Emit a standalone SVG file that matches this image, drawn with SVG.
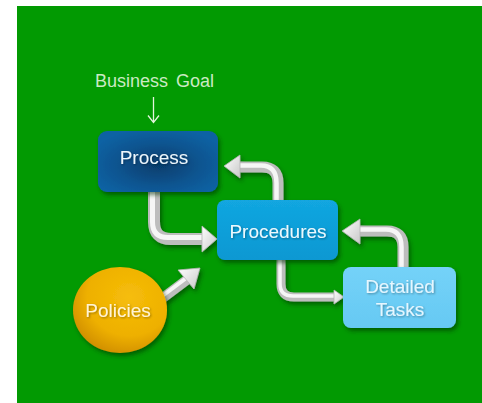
<svg xmlns="http://www.w3.org/2000/svg" width="482" height="403" viewBox="0 0 482 403">
<defs>
<style>
.lbl{font-family:"Liberation Sans",Arial,sans-serif;font-size:19px;text-anchor:middle}
.tube{fill:none;stroke:#bdbdbd;stroke-linecap:butt;stroke-linejoin:round}
.tubehi{fill:none;stroke:#f6f6f6;stroke-linecap:butt;stroke-linejoin:round}
.head{fill:url(#headG);stroke:#b5b5b5;stroke-width:0.8;stroke-linejoin:round}
.thin{fill:none;stroke:#e3f4de;stroke-width:1.3}
</style>
<radialGradient id="procG" cx="0.5" cy="0.55" r="0.6">
<stop offset="0" stop-color="#063d6c"/>
<stop offset="0.6" stop-color="#0a5591"/>
<stop offset="1" stop-color="#0c62a3"/>
</radialGradient>
<linearGradient id="procdG" x1="0" y1="0" x2="0" y2="1">
<stop offset="0" stop-color="#12a6e0"/>
<stop offset="1" stop-color="#0a98d2"/>
</linearGradient>
<linearGradient id="detG" x1="0" y1="0" x2="0" y2="1">
<stop offset="0" stop-color="#74d2f8"/>
<stop offset="1" stop-color="#66c9f3"/>
</linearGradient>
<radialGradient id="polG" cx="0.6" cy="0.35" r="0.75">
<stop offset="0" stop-color="#f6bd0a"/>
<stop offset="0.6" stop-color="#eeb000"/>
<stop offset="1" stop-color="#c98600"/>
</radialGradient>
<linearGradient id="headG" x1="0" y1="0" x2="1" y2="1">
<stop offset="0" stop-color="#ffffff"/>
<stop offset="1" stop-color="#c8c8c8"/>
</linearGradient>
<filter id="sh" x="-20%" y="-20%" width="150%" height="150%">
<feDropShadow dx="2" dy="3" stdDeviation="2" flood-color="#003300" flood-opacity="0.55"/>
</filter>
<filter id="tsh" x="-10%" y="-20%" width="130%" height="150%">
<feDropShadow dx="1" dy="1" stdDeviation="0.8" flood-color="#000000" flood-opacity="0.35"/>
</filter>
</defs>
<rect x="0" y="0" width="482" height="403" fill="#ffffff"/>
<rect x="17" y="6" width="465" height="397" fill="#029a02"/>

<g id="connectors">
<!-- Business Goal -> Process -->
<g id="c-goal-process">
<path class="thin" d="M153.5 97 V122"/>
<path class="thin" d="M148 115.5 L153.5 122.5 L159 115.5"/>
</g>
<g filter="url(#sh)">
<!-- Process -> Procedures -->
<g id="c-process-procedures">
<path class="tube" stroke-width="12" d="M154 192 V222 Q154 239 171 239 H203"/>
<path class="tubehi" stroke-width="5" d="M152.5 192 V222 Q152.5 237.5 168 237.5 H203"/>
<polygon class="head" points="202,226 217,239 202,252"/>
</g>
<!-- Procedures -> Process -->
<g id="c-procedures-process">
<path class="tube" stroke-width="11" d="M278 201 V183 Q278 167 262 167 H239"/>
<path class="tubehi" stroke-width="4.5" d="M276.5 201 V183 Q276.5 165.5 261 165.5 H239"/>
<polygon class="head" points="240,155 224,166 240,178"/>
</g>
<!-- Procedures -> Detailed Tasks -->
<g id="c-procedures-detailed">
<path class="tube" stroke-width="9" d="M281 259 V284 Q281 297 294 297 H336"/>
<path class="tubehi" stroke-width="3.5" d="M280 259 V284 Q280 296 293 296 H336"/>
<polygon class="head" points="334,290 344,297 334,304"/>
</g>
<!-- Detailed Tasks -> Procedures -->
<g id="c-detailed-procedures">
<path class="tube" stroke-width="11" d="M403 268 V247 Q403 231 387 231 H358"/>
<path class="tubehi" stroke-width="4.5" d="M401.5 268 V247 Q401.5 229.5 386 229.5 H358"/>
<polygon class="head" points="360,219 342,231 360,244"/>
</g>
<!-- Policies -> Procedures -->
<g id="c-policies-procedures">
<path class="tube" stroke-width="10" d="M160 300 L188 279"/>
<path class="tubehi" stroke-width="4" d="M159 298.5 L187 277.5"/>
<polygon class="head" points="178,270 200,268 194,289"/>
</g>
</g>
</g>

<g id="business-goal">
<text class="lbl" x="154.5" y="87" fill="#cbeac3" word-spacing="3" style="font-size:18px">Business Goal</text>
</g>

<g id="process">
<rect x="98" y="131" width="120" height="61" rx="9" fill="url(#procG)" filter="url(#sh)"/>
<text class="lbl" x="154" y="164" fill="#eef6fb" filter="url(#tsh)">Process</text>
</g>

<g id="procedures">
<rect x="217" y="200" width="121" height="60" rx="8" fill="url(#procdG)" filter="url(#sh)"/>
<text class="lbl" x="278" y="238" fill="#eef8fd" filter="url(#tsh)">Procedures</text>
</g>

<g id="detailed-tasks">
<rect x="343" y="267" width="113" height="61" rx="8" fill="url(#detG)" filter="url(#sh)"/>
<text class="lbl" x="400" y="293" fill="#e6f6fe" filter="url(#tsh)">Detailed</text>
<text class="lbl" x="400" y="316" fill="#e6f6fe" filter="url(#tsh)">Tasks</text>
</g>

<g id="policies">
<ellipse cx="120" cy="310" rx="47" ry="43" fill="url(#polG)" filter="url(#sh)"/>
<text class="lbl" x="118" y="317" fill="#fff3d6" filter="url(#tsh)">Policies</text>
</g>
</svg>
